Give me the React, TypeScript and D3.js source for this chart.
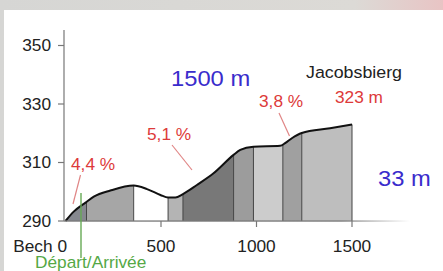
import React from 'react'
import { scaleLinear, area, line, curveMonotoneX } from 'd3'

// profile of the route: distance (m) and elevation (m)
const distances = [0, 43, 105, 148, 235, 357, 427, 497, 537, 575, 615, 688, 775, 880, 915, 984, 1124, 1150, 1185, 1237, 1385, 1500]
const elevations = [290, 293.2, 296.3, 298.3, 300.4, 302.1, 300.9, 298.9, 298, 298, 299.2, 302.3, 306.3, 312.6, 314.3, 315.4, 315.7, 316.6, 318.3, 320.1, 321.7, 323]

// section boundaries and their shading
const sectionBreaks = [0, 110, 357, 537, 615, 880, 984, 1138, 1237, 1500]
const sectionFills = ['#86888f', '#a6a6a6', '#ffffff', '#b4b4b4', '#787878', '#9c9c9c', '#cccccc', '#a0a0a0', '#bebebe']

const yTicks = [290, 310, 330, 350]
const xTicks = [500, 1000, 1500]

const gradeLabels = ['4,4 %', '5,1 %', '3,8 %']

const W = 443
const H = 271
const FONT = 'Liberation Sans, Arial, sans-serif'

// image is a bit wider than tall, so text is stretched
const T = ({ x, y, size, fill, anchor = 'start', children }: any) => (
  <text
    transform={`translate(${x},${y}) scale(1.08,1)`}
    fontSize={size}
    fill={fill}
    textAnchor={anchor}
    fontFamily={FONT}
  >
    {children}
  </text>
)

const elevAt = (d: number) => {
  for (let i = 1; i < distances.length; i++) {
    if (d <= distances[i]) {
      const t = (d - distances[i - 1]) / (distances[i] - distances[i - 1])
      return elevations[i - 1] + t * (elevations[i] - elevations[i - 1])
    }
  }
  return elevations[elevations.length - 1]
}

const App = () => {
  const x = scaleLinear().domain([0, 1500]).range([65.5, 352])
  const y = scaleLinear().domain([290, 350]).range([221, 45.5])

  const pts = distances.map((d, i) => [d, elevations[i]] as [number, number])

  const profileArea = area<[number, number]>()
    .x(p => x(p[0]))
    .y0(y(290))
    .y1(p => y(p[1]))
    .curve(curveMonotoneX)

  const profileLine = line<[number, number]>()
    .x(p => x(p[0]))
    .y(p => y(p[1]))
    .curve(curveMonotoneX)

  const red = '#dd3a3a'
  const lead = '#e08585'
  const blue = '#3a2ccc'
  const axisCol = '#777'

  return (
    <svg width={W} height={H} style={{ position: 'absolute', left: 0, top: 0 }}>
      <defs>
        <linearGradient id="bg" x1="0" x2="1" y1="0" y2="0">
          <stop offset="0" stopColor="#d6d6d4" />
          <stop offset="0.8" stopColor="#dcdad6" />
          <stop offset="1" stopColor="#e8c4c4" />
        </linearGradient>
        <linearGradient id="axfade" x1="0" x2="1" y1="0" y2="0">
          <stop offset="0.8" stopColor={axisCol} stopOpacity="1" />
          <stop offset="1" stopColor={axisCol} stopOpacity="0" />
        </linearGradient>
        {sectionFills.map((_, i) => (
          <clipPath id={`sec${i}`} key={i}>
            <rect
              x={x(sectionBreaks[i])}
              y={0}
              width={x(sectionBreaks[i + 1]) - x(sectionBreaks[i])}
              height={H}
            />
          </clipPath>
        ))}
      </defs>
      <rect x={0} y={0} width={W} height={H} fill="url(#bg)" />
      <rect x={4} y={10} width={W - 4} height={H - 10} fill="#fff" />

      {/* shaded sections */}
      {sectionFills.map((c, i) => (
        <path key={i} d={profileArea(pts) || ''} fill={c} clipPath={`url(#sec${i})`} />
      ))}
      {sectionBreaks.slice(1).map((d, i) => (
        <line
          key={i}
          x1={x(d)}
          x2={x(d)}
          y1={y(290)}
          y2={y(elevAt(d))}
          stroke="#454545"
          strokeWidth={1}
        />
      ))}
      <path d={profileLine(pts) || ''} fill="none" stroke="#111" strokeWidth={2} />

      {/* axes */}
      <line x1={64} x2={64} y1={30} y2={221} stroke={axisCol} strokeWidth={1.2} />
      <rect x={64} y={220.4} width={346} height={1.3} fill="url(#axfade)" />
      {yTicks.map(t => (
        <g key={t}>
          <line x1={58} x2={64} y1={y(t)} y2={y(t)} stroke={axisCol} strokeWidth={1.2} />
          <T x={51} y={y(t) + 5.5} size={16} fill="#222" anchor="end">{t}</T>
        </g>
      ))}
      {xTicks.map(t => (
        <g key={t}>
          <line x1={x(t)} x2={x(t)} y1={221} y2={227} stroke={axisCol} strokeWidth={1.2} />
          <T x={x(t)} y={252} size={16} fill="#222" anchor="middle">{t}</T>
        </g>
      ))}
      <T x={67} y={252} size={16} fill="#222" anchor="end">Bech 0</T>

      {/* start / finish marker */}
      <line x1={81} x2={81} y1={193} y2={258} stroke="#66aa55" strokeWidth={1.4} />
      <T x={35} y={267.5} size={16} fill="#55a845">Départ/Arrivée</T>

      {/* gradients */}
      <line x1={80.5} y1={175} x2={73} y2={204} stroke={lead} strokeWidth={1.2} />
      <line x1={172} y1={145} x2={192} y2={170} stroke={lead} strokeWidth={1.2} />
      <line x1={279} y1={113} x2={289.5} y2={136} stroke={lead} strokeWidth={1.2} />
      <T x={71} y={170} size={16} fill={red}>{gradeLabels[0]}</T>
      <T x={147} y={140} size={16} fill={red}>{gradeLabels[1]}</T>
      <T x={259} y={107} size={16} fill={red}>{gradeLabels[2]}</T>

      <T x={306} y={78} size={16.5} fill="#222">Jacobsbierg</T>
      <T x={335} y={102.5} size={16} fill={red}>323 m</T>
      <T x={171} y={86} size={22} fill={blue}>1500 m</T>
      <T x={378} y={186} size={22} fill={blue}>33 m</T>
    </svg>
  )
}

export default App
